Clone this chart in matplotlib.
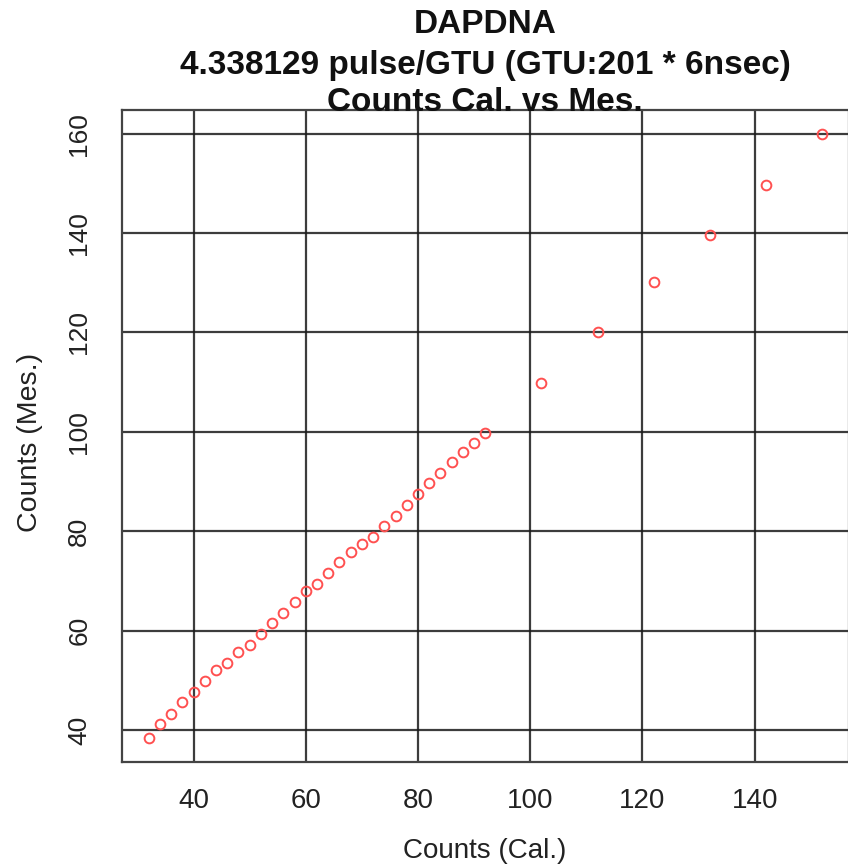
import matplotlib
matplotlib.use("Agg")
import matplotlib.pyplot as plt

# Data
counts_cal = [32, 34, 36, 38, 40, 42, 44, 46, 48, 50, 52, 54, 56, 58, 60, 62,
              64, 66, 68, 70, 72, 74, 76, 78, 80, 82, 84, 86, 88, 90, 92,
              102, 112, 122, 132, 142, 152]
counts_mes = [38.4, 41.2, 43.3, 45.6, 47.7, 49.9, 52.1, 53.5, 55.6, 57.1, 59.3,
              61.5, 63.6, 65.7, 67.9, 69.4, 71.6, 73.7, 75.9, 77.4, 78.8, 81.0,
              83.1, 85.3, 87.5, 89.7, 91.8, 93.9, 96.0, 97.7, 99.8,
              109.9, 120.0, 130.2, 139.6, 149.7, 159.9]
x_ticks = [40, 60, 80, 100, 120, 140]
y_ticks = [40, 60, 80, 100, 120, 140, 160]
title_lines = ["DAPDNA", "4.338129 pulse/GTU (GTU:201 * 6nsec)", "Counts Cal. vs Mes."]
x_label = "Counts (Cal.)"
y_label = "Counts (Mes.)"

plt.rcParams['font.family'] = ['Liberation Sans', 'DejaVu Sans']

W, H = 848, 865
fig = plt.figure(figsize=(W / 100, H / 100), dpi=100)
left, right, top, bottom = 121.7, 849, 110, 762
ax = fig.add_axes([left / W, 1 - bottom / H, (right - left) / W, (bottom - top) / H])

ax.plot(counts_cal, counts_mes, linestyle='none', marker='o', markersize=7,
        markerfacecolor='none', markeredgecolor='#ff5050', markeredgewidth=1.4,
        zorder=3)

def padded(vals, f=0.04):
    lo, hi = min(vals), max(vals)
    d = (hi - lo) * f
    return lo - d, hi + d

ax.set_xlim(*padded(counts_cal))
ax.set_ylim(*padded(counts_mes))
ax.set_xticks(x_ticks)
ax.set_yticks(y_ticks)
ax.set_xticklabels([str(v) for v in x_ticks])
ax.set_yticklabels([str(v) for v in y_ticks], rotation=90, va='center')
ax.tick_params(axis='both', length=0, colors='#222222')
ax.tick_params(axis='x', pad=19, labelsize=20)
ax.tick_params(axis='y', pad=22, labelsize=19)
ax.grid(True, color='#1a1a1a', linewidth=1.6, alpha=0.85)
ax.set_axisbelow(True)
for s in ax.spines.values():
    s.set_color('#444444')
    s.set_linewidth(1.6)

fig.text(485 / W, 1 - 858 / H, x_label, ha='center', va='baseline', fontsize=20,
         color='#222222')
fig.text(30 / W, 1 - 442 / H, y_label, ha='center', va='center', rotation=90,
         fontsize=20.5, color='#222222')

baselines = [33, 74, 111]
for line, b in zip(title_lines, baselines):
    fig.text(485 / W, 1 - b / H, line, ha='center', va='baseline', fontsize=24,
             fontweight='bold', color='#111111')

fig.savefig('out.png', dpi=100)
